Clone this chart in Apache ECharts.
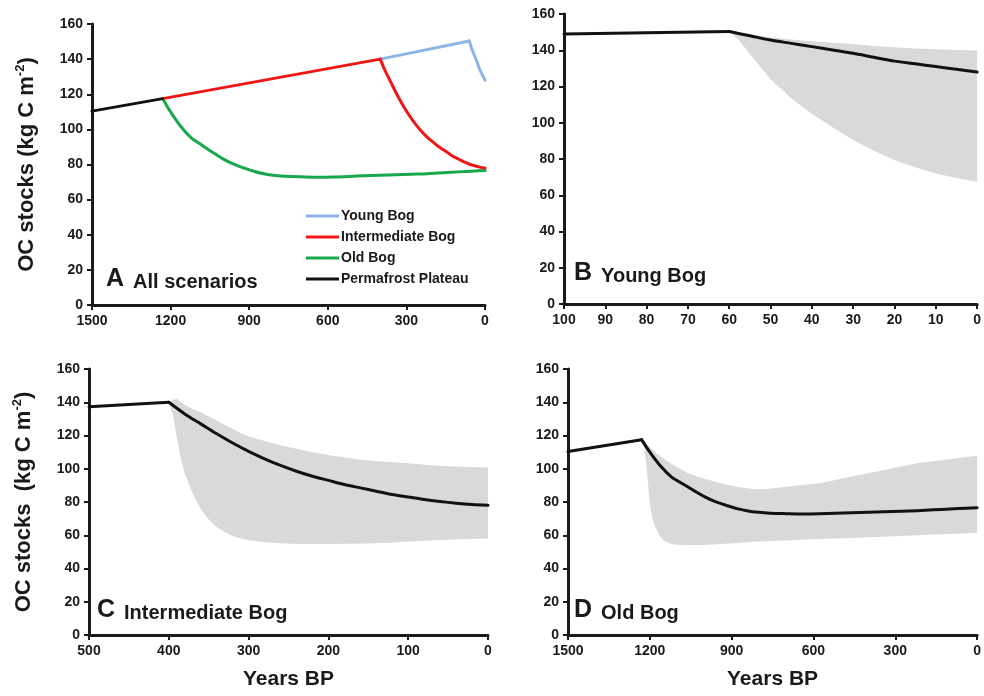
<!DOCTYPE html>
<html>
<head>
<meta charset="utf-8">
<script src="https://cdn.jsdelivr.net/npm/echarts@6/dist/echarts.min.js"></script>
<style>
html,body{margin:0;padding:0;background:#fff;}
#chart{width:984px;height:696px;}
</style>
</head>
<body>
<div id="chart"></div>
<script>
// ---- Data (Years BP, OC stocks kg C m-2) ----
// Permafrost plateau growth before thaw
const plateauYears = [1500, 1230];
const plateauStock = [110.4, 117.5];
// Growth of plateau up to intermediate / young thaw onset
const intermGrowthYears = [1230, 400];
const intermGrowthStock = [117.5, 140];
const youngGrowthYears = [400, 60];
const youngGrowthStock = [140, 150.3];

// Post-thaw trajectories (central estimates)
const youngDecayYears = [60, 55, 50, 45, 40, 35, 30, 25, 20, 15, 10, 5, 0];
const youngDecayStock = [150.3, 148, 145.6, 143.8, 142, 140.1, 138.3, 136.1, 134, 132.5, 131, 129.5, 128];

const intermDecayYears = [400, 380, 360, 340, 320, 300, 280, 260, 240, 220, 200, 180, 160, 140, 120, 100, 80, 60, 40, 20, 0];
const intermDecayStock = [140, 133, 127, 121, 115.5, 110.5, 106, 102, 98.5, 95.5, 93, 90.5, 88.5, 86.5, 84.5, 83, 81.5, 80.3, 79.3, 78.5, 78];

const oldDecayYears = [1230, 1200, 1160, 1120, 1080, 1040, 1000, 960, 920, 880, 840, 800, 760, 700, 640, 580, 520, 460, 400, 340, 280, 220, 160, 100, 40, 0];
const oldDecayStock = [117.5, 110, 101.5, 95, 91, 87, 83.2, 80.2, 78, 76, 74.6, 73.8, 73.3, 73, 72.8, 72.9, 73.2, 73.6, 73.9, 74.2, 74.5, 74.8, 75.3, 75.8, 76.3, 76.6];

// Pre-thaw segments shown in panels B, C, D
const preYearsB = [100, 60];
const preStockB = [149, 150.3];
const preYearsC = [500, 400];
const preStockC = [137.3, 140];
const preYearsD = [1500, 1230];
const preStockD = [110.4, 117.5];

// Uncertainty envelopes
const bandYearsB = [60, 58, 55, 50, 45, 40, 35, 30, 25, 20, 15, 10, 5, 0];
const bandHighB = [150.3, 149.8, 148.8, 147.2, 146, 145, 144.2, 143.4, 142.4, 141.6, 141, 140.5, 140.1, 139.8];
const bandLowB = [150.3, 146.5, 138, 124, 113.5, 105, 97.5, 90.5, 84.5, 79.4, 75.5, 72, 69.5, 67.5];

const bandYearsC = [400, 395, 390, 385, 380, 370, 360, 350, 340, 330, 320, 310, 300, 280, 260, 240, 220, 200, 175, 150, 125, 100, 75, 50, 25, 0];
const bandHighC = [140, 141.5, 142, 140.5, 138.5, 136, 134, 131.5, 129, 126.5, 124, 121.5, 119.4, 116.7, 114.2, 112, 110, 108.3, 106.5, 105, 104, 103.3, 102.3, 101.5, 101, 100.7];
const bandLowC = [140, 133, 119, 106, 97, 85, 76, 69.5, 65, 62, 59.5, 58, 57, 55.8, 55.2, 54.8, 54.7, 54.8, 54.9, 55, 55.5, 56.2, 56.8, 57.3, 57.7, 58];

const bandYearsD = [1230, 1220, 1210, 1200, 1190, 1180, 1160, 1140, 1120, 1100, 1060, 1000, 940, 880, 820, 760, 700, 640, 580, 520, 460, 400, 340, 280, 220, 160, 100, 40, 0];
const bandHighD = [117.5, 116, 114.5, 113, 111.5, 110, 107.5, 105, 103, 101, 97.3, 94, 91.3, 89.2, 87.6, 88, 89.2, 90.2, 91.3, 93.2, 95.3, 97.3, 99.3, 101.3, 103.3, 104.5, 105.7, 107, 107.7];
const bandLowD = [117.5, 112, 98, 78, 70, 65, 58.5, 56, 54.7, 54.3, 54.1, 54.2, 54.7, 55.3, 56.1, 56.5, 56.9, 57.3, 57.7, 58, 58.4, 58.8, 59.1, 59.6, 60, 60.4, 60.8, 61.2, 61.5];

// Axis settings
const yTicks = {min: 0, max: 160, interval: 20};
const xAxisRanges = [
  {max: 1500, interval: 300},
  {max: 100, interval: 10},
  {max: 500, interval: 100},
  {max: 1500, interval: 300}
];
const legendNames = ['Young Bog', 'Intermediate Bog', 'Old Bog', 'Permafrost Plateau'];

// ---- Build ----
const FONT = '"Liberation Sans", Arial, sans-serif';
const INK = '#1a1a1a';
const GRAY = '#d9d9d9';
const BLUE = '#8db4e2', RED = '#f01616', GREEN = '#16a84a', BLACK = '#111111';
const pair = (xs, ys) => xs.map((x, i) => [x, ys[i]]);

const grids = [
  {left: 92, top: 24, width: 393, height: 281},
  {left: 564, top: 14, width: 414, height: 290},
  {left: 89, top: 369, width: 399, height: 266},
  {left: 568, top: 369, width: 415, height: 266}
];

const axisLine = {show: true, onZero: false, lineStyle: {color: INK, width: 3}};
const axisTick = {show: true, inside: false, length: 5, lineStyle: {color: INK, width: 2}};
const axisLabel = {color: INK, fontSize: 14, fontWeight: 'bold', fontFamily: FONT, margin: 9, formatter: v => String(v)};

const yName = '{a|OC stocks (kg C m}{s|-2}{a|)}';
const yName2 = '{a|OC stocks  (kg C m}{s|-2}{a|)}';
const yNameStyle = {
  rich: {
    a: {fontSize: 22, fontWeight: 'bold', fontFamily: FONT, color: INK, verticalAlign: 'bottom', lineHeight: 24},
    s: {fontSize: 13, fontWeight: 'bold', fontFamily: FONT, color: INK, verticalAlign: 'top', lineHeight: 24}
  }
};

const xAxes = xAxisRanges.map((r, i) => ({
  type: 'value', gridIndex: i, min: 0, max: r.max, interval: r.interval, inverse: true,
  axisLine, axisTick, splitLine: {show: false}, axisLabel,
  name: (i >= 2) ? 'Years BP' : '',
  nameLocation: 'middle', nameGap: 34,
  nameTextStyle: {fontSize: 21, fontWeight: 'bold', fontFamily: FONT, color: INK}
}));

const yAxes = grids.map((g, i) => ({
  type: 'value', gridIndex: i, min: yTicks.min, max: yTicks.max, interval: yTicks.interval,
  axisLine, axisTick, splitLine: {show: false}, axisLabel,
  name: i === 0 ? yName : (i === 2 ? yName2 : ''),
  nameLocation: 'middle', nameGap: 54, nameRotate: 90,
  nameTextStyle: yNameStyle
}));

function line(name, idx, data, color, z, smooth) {
  return {
    name, type: 'line', xAxisIndex: idx, yAxisIndex: idx, data,
    showSymbol: false, symbol: 'none', z: z || 3,
    smooth: smooth ? 0.3 : false,
    color, itemStyle: {color},
    lineStyle: {color, width: 3, cap: 'round', join: 'round'}, emphasis: {disabled: true}
  };
}
function band(idx, years, low, high) {
  return {
    type: 'custom', xAxisIndex: idx, yAxisIndex: idx, z: 1, silent: true,
    data: years.map((y, i) => [y, low[i], high[i]]),
    encode: {x: 0, y: [1, 2]},
    renderItem: function (params, api) {
      if (params.dataIndex !== 0) return null;
      const top = years.map((y, i) => api.coord([y, high[i]]));
      const bottom = years.map((y, i) => api.coord([y, low[i]])).reverse();
      return {type: 'polygon', shape: {points: top.concat(bottom)}, style: {fill: GRAY}};
    }
  };
}

const series = [
  // Panel A
  line('Young Bog', 0, pair(youngGrowthYears, youngGrowthStock), BLUE),
  line('Young Bog', 0, pair(youngDecayYears, youngDecayStock), BLUE, 3, true),
  line('Old Bog', 0, pair(oldDecayYears, oldDecayStock), GREEN, 3, true),
  line('Intermediate Bog', 0, pair(intermGrowthYears, intermGrowthStock), RED, 4),
  line('Intermediate Bog', 0, pair(intermDecayYears, intermDecayStock), RED, 4, true),
  line('Permafrost Plateau', 0, pair(plateauYears, plateauStock), BLACK, 5),
  // Panel B
  band(1, bandYearsB, bandLowB, bandHighB),
  line('Young Bog pre', 1, pair(preYearsB, preStockB), BLACK),
  line('Young Bog central', 1, pair(youngDecayYears, youngDecayStock), BLACK, 3, true),
  // Panel C
  band(2, bandYearsC, bandLowC, bandHighC),
  line('Intermediate Bog pre', 2, pair(preYearsC, preStockC), BLACK),
  line('Intermediate Bog central', 2, pair(intermDecayYears, intermDecayStock), BLACK, 3, true),
  // Panel D
  band(3, bandYearsD, bandLowD, bandHighD),
  line('Old Bog pre', 3, pair(preYearsD, preStockD), BLACK),
  line('Old Bog central', 3, pair(oldDecayYears, oldDecayStock), BLACK, 3, true)
];

function panelTitle(letter, text, left, top) {
  return {
    left, top, padding: 0,
    text: '{l|' + letter + '}{t|' + text + '}',
    textStyle: {
      rich: {
        l: {fontSize: 25, fontWeight: 'bold', fontFamily: FONT, color: INK, padding: [0, 9, 0, 0], verticalAlign: 'bottom'},
        t: {fontSize: 20, fontWeight: 'bold', fontFamily: FONT, color: INK, verticalAlign: 'bottom'}
      }
    }
  };
}

const option = {
  animation: false,
  backgroundColor: '#ffffff',
  title: [
    panelTitle('A', 'All scenarios', 106, 267),
    panelTitle('B', 'Young Bog', 574, 261),
    panelTitle('C', 'Intermediate Bog', 97, 598),
    panelTitle('D', 'Old Bog', 574, 598)
  ],
  legend: {
    data: legendNames, orient: 'vertical', left: 306, top: 208,
    icon: 'rect', itemWidth: 33, itemHeight: 3, itemGap: 5, padding: 0,
    textStyle: {fontSize: 14, fontWeight: 'bold', fontFamily: FONT, color: INK, lineHeight: 16, padding: [0, 0, 0, -3]},
    selectedMode: false
  },
  grid: grids,
  xAxis: xAxes,
  yAxis: yAxes,
  series
};

const chart = echarts.init(document.getElementById('chart'), null, {renderer: 'canvas'});
chart.setOption(option);
</script>
</body>
</html>
